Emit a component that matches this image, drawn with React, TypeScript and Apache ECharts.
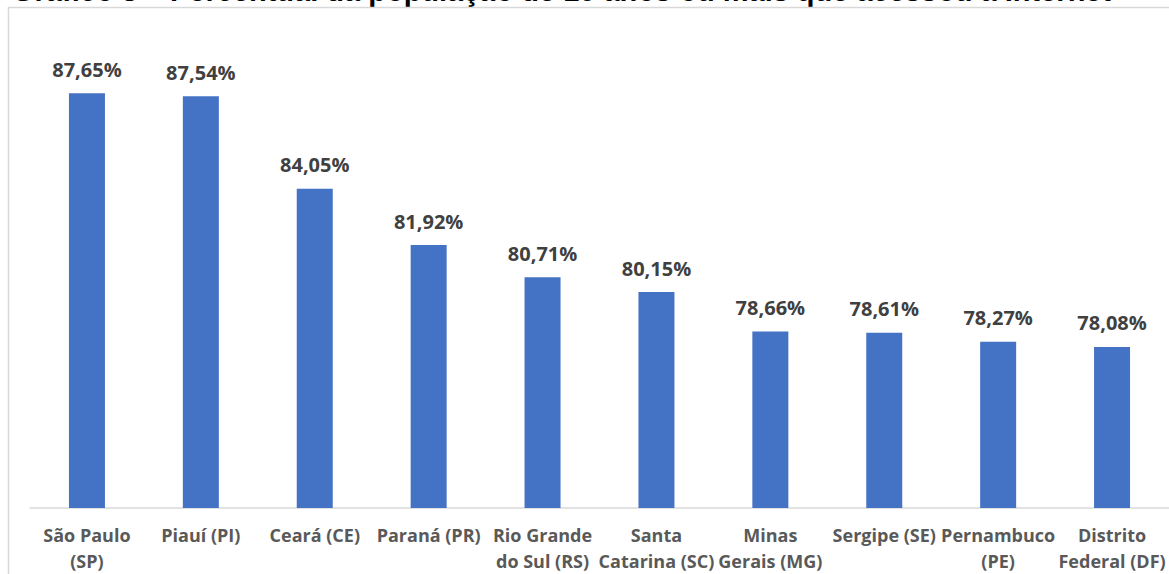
import React, { useEffect, useRef } from "react";
import * as echarts from "echarts";

const categories = [
  "São Paulo\n(SP)",
  "Piauí (PI)",
  "Ceará (CE)",
  "Paraná (PR)",
  "Rio Grande\ndo Sul (RS)",
  "Santa\nCatarina (SC)",
  "Minas\nGerais (MG)",
  "Sergipe (SE)",
  "Pernambuco\n(PE)",
  "Distrito\nFederal (DF)",
];
const values = [87.65, 87.54, 84.05, 81.92, 80.71, 80.15, 78.66, 78.61, 78.27, 78.08];
const titleText =
  "Gráfico 3 – Percentual da população de 10 anos ou mais que acessou a Internet";

export default function App() {
  const ref = useRef<HTMLDivElement>(null);
  useEffect(() => {
    if (!ref.current) return;
    const chart = echarts.init(ref.current, null, { renderer: "svg" });
    chart.setOption({
      animation: false,
      backgroundColor: "#ffffff",
      graphic: [
        {
          type: "text",
          left: 12,
          top: -24,
          style: {
            text: titleText,
            font: "bold 29px 'Liberation Sans', Arial, sans-serif",
            fill: "#000000",
          },
        },
        {
          type: "rect",
          shape: { x: 8.5, y: 7.5, width: 1200, height: 600 },
          style: { fill: "none", stroke: "#d9d9d9", lineWidth: 1.5 },
          silent: true,
        },
      ],
      grid: { left: 30, right: -1, top: 31, bottom: 65, containLabel: false },
      xAxis: {
        type: "category",
        data: categories,
        axisLine: { lineStyle: { color: "#d9d9d9", width: 1.5 } },
        axisTick: { show: false },
        axisLabel: {
          interval: 0,
          margin: 14,
          color: "#595959",
          fontSize: 18,
          fontWeight: "bold",
          fontFamily: "'Open Sans', sans-serif",
          lineHeight: 26,
        },
      },
      yAxis: {
        type: "value",
        min: 72,
        max: 90,
        show: false,
        splitLine: { show: false },
      },
      series: [
        {
          type: "bar",
          data: values,
          barWidth: 36,
          itemStyle: { color: "#4472c4" },
          label: {
            show: true,
            position: "top",
            distance: 14,
            color: "#404040",
            fontSize: 20,
            fontWeight: "bold",
            fontFamily: "'Open Sans', sans-serif",
            formatter: (p: any) => p.value.toFixed(2).replace(".", ",") + "%",
          },
        },
      ],
    });
    return () => chart.dispose();
  }, []);
  return (
    <div
      ref={ref}
      style={{ position: "absolute", left: 0, top: 0, width: 1169, height: 574 }}
    />
  );
}
